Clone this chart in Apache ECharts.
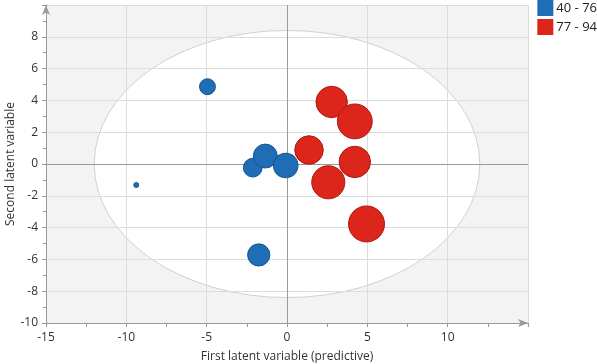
<!DOCTYPE html>
<html>
<head>
<meta charset="utf-8">
<script src="https://cdn.jsdelivr.net/npm/echarts@6/dist/echarts.min.js"></script>
<style>
  html, body { margin: 0; padding: 0; background: #fff; }
  #chart { width: 597px; height: 364px; }
</style>
</head>
<body>
<div id="chart"></div>
<script>
// group 40 - 76
const lowX = [-4.95, -9.38, -2.13, -1.35, -0.08, -1.76];
const lowY = [4.86, -1.32, -0.23, 0.5, -0.1, -5.72];
const lowScore = [59, 40, 64, 73, 74, 70];
// group 77 - 94
const highX = [2.78, 4.22, 1.37, 4.22, 2.57, 4.95];
const highY = [3.9, 2.68, 0.88, 0.13, -1.15, -3.77];
const highScore = [86, 92, 81, 86, 89, 94];

const groupNames = ['40 - 76', '77 - 94'];
// confidence ellipse: centre and semi-axes
const ellipseCentre = [0, 0];
const ellipseRadii = [12, 8.4];

const toPoints = (xs, ys, ss) => xs.map((x, i) => [x, ys[i], ss[i]]);
const bubbleSize = (val) => 5 + (val[2] - 40) * 0.574;

const chart = echarts.init(document.getElementById('chart'));

const axisText = { color: '#333', fontFamily: 'Open Sans', fontSize: 12 };

const option = {
  animation: false,
  textStyle: { fontFamily: 'Open Sans' },
  grid: {
    left: 46, right: 69, top: 5, bottom: 41,
    containLabel: false,
    outerBoundsMode: 'none',
    show: true,
    backgroundColor: '#f3f3f3',
    borderWidth: 0,
    z: -2
  },
  legend: {
    data: groupNames,
    orient: 'vertical',
    right: -5,
    top: -5,
    itemWidth: 16,
    itemHeight: 16,
    itemGap: 3,
    icon: 'rect',
    itemStyle: { borderWidth: 0 },
    textStyle: { color: '#222', fontFamily: 'Open Sans', fontSize: 13, padding: [0, 0, 0, -2] }
  },
  xAxis: {
    type: 'value',
    min: -15, max: 15, interval: 5,
    name: 'First latent variable (predictive)',
    nameLocation: 'middle',
    nameGap: 28,
    nameMoveOverlap: false,
    nameTextStyle: axisText,
    axisLabel: Object.assign({
      formatter: (v) => (v === 15 ? '' : v),
      margin: 9
    }, axisText),
    axisLine: { onZero: false, lineStyle: { color: '#999' }, symbol: ['none', 'arrow'], symbolSize: [6, 10] },
    axisTick: { length: 4, lineStyle: { color: '#999' } },
    minorTick: { show: true, splitNumber: 2, length: 4, lineStyle: { color: '#999' } },
    splitLine: { lineStyle: { color: '#dcdcdc' } }
  },
  yAxis: {
    type: 'value',
    min: -10, max: 10, interval: 2,
    name: 'Second latent variable',
    nameLocation: 'middle',
    nameGap: 29,
    nameMoveOverlap: false,
    nameTextStyle: axisText,
    axisLabel: Object.assign({
      formatter: (v) => (v === 10 ? '' : v),
      margin: 8
    }, axisText),
    axisLine: { onZero: false, show: true, lineStyle: { color: '#999' }, symbol: ['none', 'arrow'], symbolSize: [6, 10] },
    axisTick: { show: true, length: 4, lineStyle: { color: '#999' } },
    minorTick: { show: true, splitNumber: 2, length: 3, lineStyle: { color: '#999' } },
    splitLine: { lineStyle: { color: '#dcdcdc' } }
  },
  series: [
    {
      type: 'custom',
      name: 'ellipse',
      z: -1,
      silent: true,
      data: [[ellipseCentre[0], ellipseCentre[1], ellipseRadii[0], ellipseRadii[1]]],
      renderItem: (params, api) => {
        const c = api.coord([api.value(0), api.value(1)]);
        const s = api.size([api.value(2), api.value(3)]);
        return {
          type: 'circle',
          x: c[0],
          y: c[1],
          scaleY: s[1] / s[0],
          shape: { cx: 0, cy: 0, r: s[0] },
          style: { fill: '#fff', stroke: '#c8c8c8', lineWidth: 1 / Math.max(1, s[1] / s[0]) }
        };
      }
    },
    {
      type: 'scatter',
      name: groupNames[0],
      data: toPoints(lowX, lowY, lowScore),
      symbolSize: bubbleSize,
      itemStyle: { color: '#1f6db4', borderColor: '#17558e', borderWidth: 1, opacity: 1 },
      markLine: {
        silent: true,
        z: 1,
        symbol: 'none',
        label: { show: false },
        lineStyle: { color: '#9a9a9a', type: 'solid', width: 1 },
        data: [{ xAxis: 0 }, { yAxis: 0 }]
      }
    },
    {
      type: 'scatter',
      name: groupNames[1],
      data: toPoints(highX, highY, highScore),
      symbolSize: bubbleSize,
      itemStyle: { color: '#dc251b', borderColor: '#a91a12', borderWidth: 1, opacity: 1 }
    }
  ]
};

chart.setOption(option);
</script>
</body>
</html>
